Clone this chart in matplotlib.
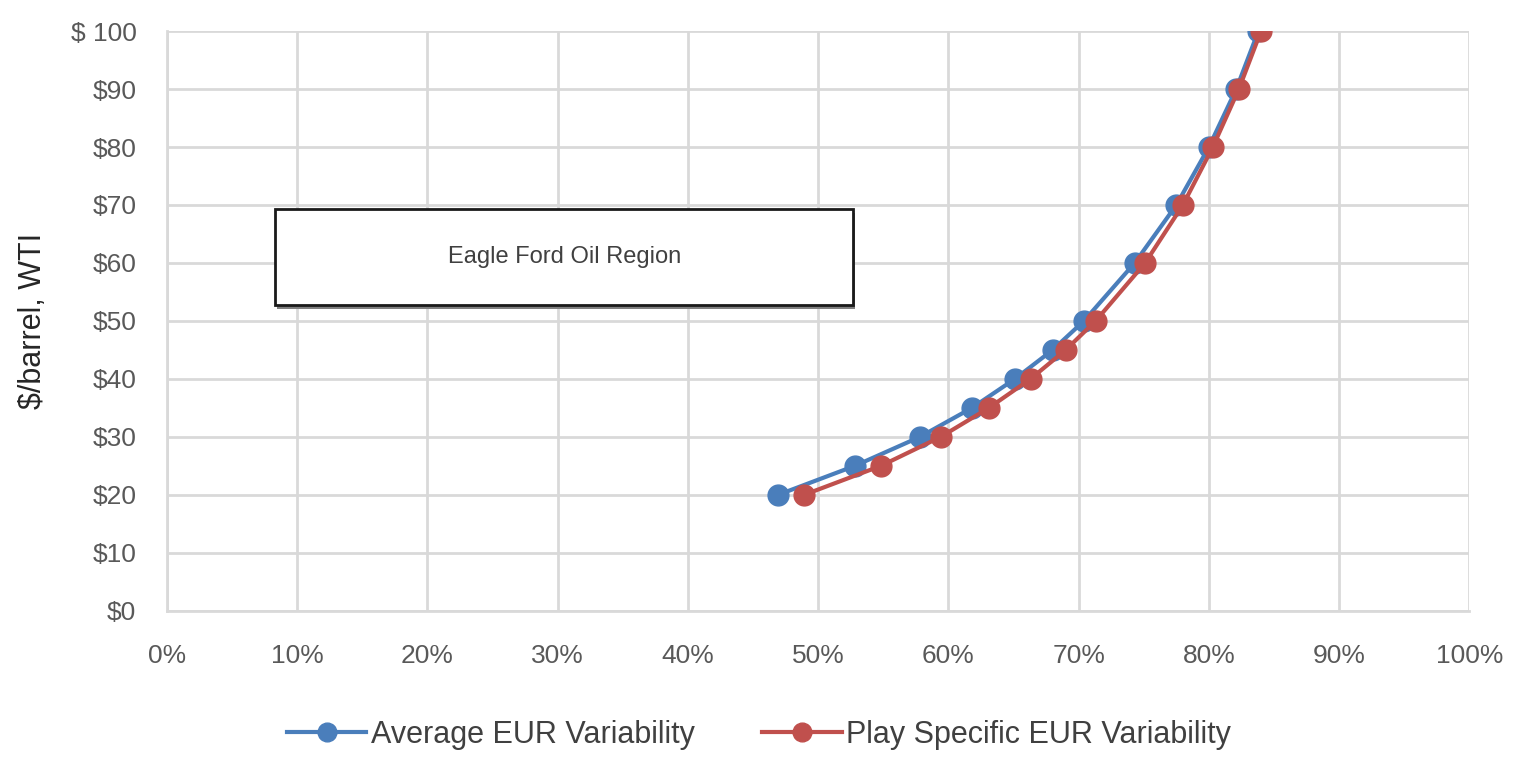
import matplotlib
matplotlib.use("Agg")
import matplotlib.pyplot as plt
from matplotlib.ticker import FuncFormatter, MultipleLocator
from matplotlib.patches import Rectangle

plt.rcParams['font.family'] = ['Liberation Sans', 'DejaVu Sans']

# WTI price levels ($/barrel) and share of wells economic (%)
price = [20, 25, 30, 35, 40, 45, 50, 60, 70, 80, 90, 100]
avg_eur = [46.9, 52.8, 57.8, 61.8, 65.1, 68.0, 70.4, 74.3, 77.5, 80.0, 82.1, 83.8]
play_eur = [48.9, 54.8, 59.4, 63.1, 66.3, 69.0, 71.3, 75.1, 78.0, 80.3, 82.3, 84.0]

series_labels = ["Average EUR Variability", "Play Specific EUR Variability"]
region_label = "Eagle Ford Oil Region"
y_label = "$/barrel, WTI"

blue = "#4A7EBB"
red = "#C0504D"
tick_color = "#595959"
grid_color = "#D9D9D9"

fig = plt.figure(figsize=(15.18, 7.57), dpi=100)
ax = fig.add_axes([0.110, 0.193, 0.858, 0.766])

ax.plot(avg_eur, price, color=blue, lw=3, marker="o", ms=15, label=series_labels[0], zorder=3)
ax.plot(play_eur, price, color=red, lw=3, marker="o", ms=15, label=series_labels[1], zorder=4)

ax.set_xlim(0, 100)
ax.set_ylim(0, 100)
ax.xaxis.set_major_locator(MultipleLocator(10))
ax.yaxis.set_major_locator(MultipleLocator(10))
ax.xaxis.set_major_formatter(FuncFormatter(lambda v, p: f"{v:.0f}%"))
ax.yaxis.set_major_formatter(FuncFormatter(lambda v, p: "$ 100" if v >= 100 else f"${v:.0f}"))

ax.grid(True, color=grid_color, lw=2)
ax.set_axisbelow(True)
for s in ["top", "right"]:
    ax.spines[s].set_visible(False)
for s in ["left", "bottom"]:
    ax.spines[s].set_color(grid_color)
    ax.spines[s].set_linewidth(2)
ax.tick_params(length=0, labelsize=19, colors=tick_color)
ax.tick_params(axis="x", pad=24)
ax.tick_params(axis="y", pad=22)

ax.set_ylabel(y_label, fontsize=22, color="#262626", labelpad=16)

# framed caption box with a soft drop shadow
box_x, box_y, box_w, box_h = 8.3, 52.8, 44.4, 16.5
ax.add_patch(Rectangle((box_x + 0.15, box_y - 0.7), box_w, box_h, facecolor="#808080",
                       edgecolor="none", zorder=2))
ax.add_patch(Rectangle((box_x, box_y), box_w, box_h, facecolor="white", edgecolor="#1a1a1a",
                       lw=2, zorder=2.5))
ax.text(box_x + box_w / 2, box_y + box_h / 2, region_label, ha="center", va="center",
        fontsize=17, color="#404040", zorder=5)

fig.legend(loc="center", bbox_to_anchor=(0.5, 1 - 735 / 757), ncol=2, frameon=False,
           fontsize=22, handlelength=2.6, columnspacing=2.2, handletextpad=0.15,
           labelcolor="#404040", markerscale=0.9)

fig.savefig("out.png", dpi=100)
